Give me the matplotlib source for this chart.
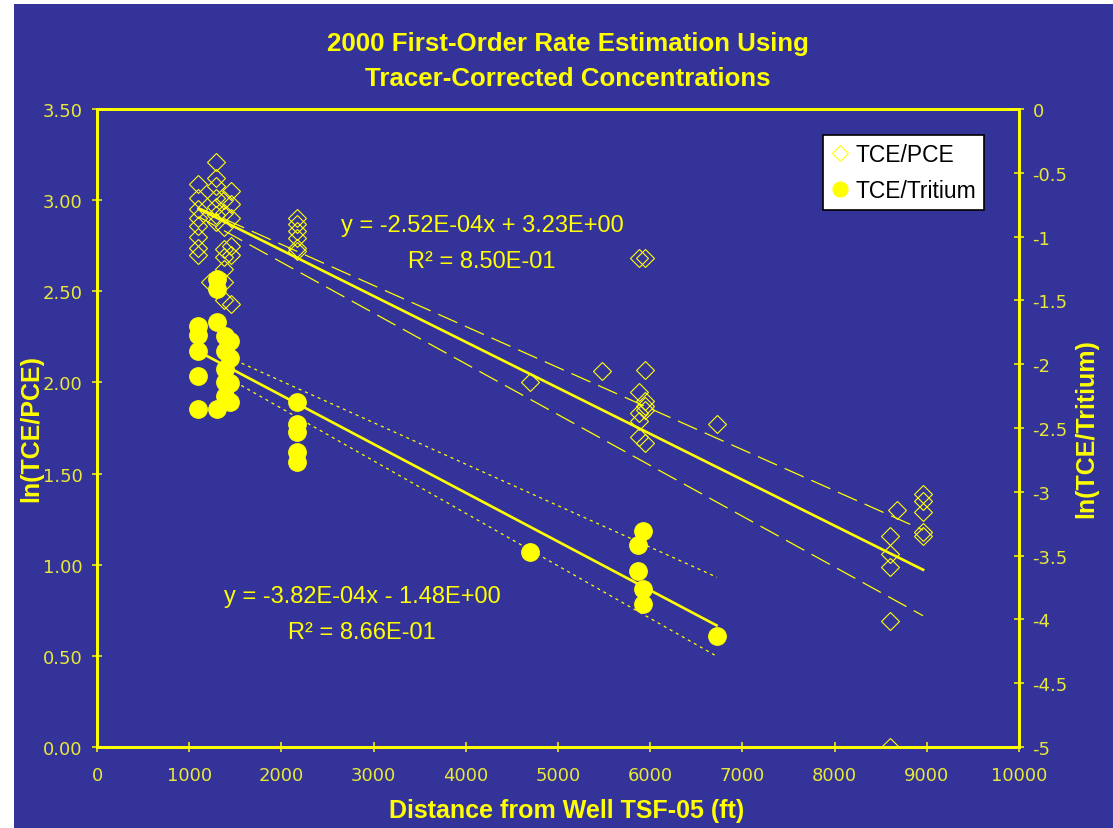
import numpy as np
import matplotlib
matplotlib.use("Agg")
import matplotlib.pyplot as plt
from matplotlib import font_manager
from matplotlib.patches import Rectangle
from matplotlib.ticker import FormatStrFormatter, FuncFormatter

NAVY = "#333399"
YEL = "#FFFF00"

# ---- data ----
# TCE/PCE (left axis)
pce_x = [1100, 1100, 1100, 1100, 1100, 1100, 1100, 1100,
         1290, 1290, 1290, 1290, 1290, 1290, 1290, 1230,
         1380, 1380, 1380, 1380, 1380, 1380, 1380, 1380,
         1450, 1450, 1450, 1450, 1450, 1450,
         2170, 2170, 2170, 2170, 2170, 2170,
         4700, 5480,
         5880, 5880, 5880, 5880, 5880,
         5940, 5940, 5940, 5940, 5940, 5940,
         6720,
         8600, 8600, 8600, 8600, 8600, 8680,
         8960, 8960, 8960, 8960, 8960]
pce_y = [3.09, 3.01, 2.95, 2.90, 2.86, 2.80, 2.74, 2.70,
         3.21, 3.12, 3.08, 3.01, 2.96, 2.92, 2.88, 2.55,
         3.00, 2.93, 2.85, 2.73, 2.69, 2.62, 2.55, 2.45,
         3.05, 2.98, 2.90, 2.75, 2.70, 2.43,
         2.90, 2.87, 2.83, 2.79, 2.74, 2.72,
         2.00, 2.06,
         2.68, 1.95, 1.83, 1.79, 1.70,
         2.68, 2.07, 1.90, 1.87, 1.85, 1.67,
         1.77,
         1.16, 1.06, 0.99, 0.69, 0.00, 1.30,
         1.39, 1.35, 1.29, 1.18, 1.16]

# TCE/Tritium (right axis)
trit_x = [1100, 1100, 1100, 1100, 1100,
          1300, 1300, 1300, 1300,
          1390, 1390, 1390, 1390, 1390,
          1440, 1440, 1440, 1440,
          2170, 2170, 2170, 2170, 2170,
          4700,
          5870, 5920, 5870, 5920, 5920,
          6720]
trit_y = [-1.70, -1.77, -1.90, -2.09, -2.35,
          -1.33, -1.41, -1.67, -2.35,
          -1.78, -1.90, -2.04, -2.14, -2.25,
          -1.82, -1.95, -2.15, -2.30,
          -2.30, -2.47, -2.53, -2.69, -2.77,
          -3.47,
          -3.42, -3.31, -3.62, -3.76, -3.88,
          -4.13]

# trendlines (from the equations shown on the chart)
pce_slope, pce_icpt, pce_r2 = -2.52e-4, 3.23, 8.50e-1
trit_slope, trit_icpt, trit_r2 = -3.82e-4, -1.48, 8.66e-1

# confidence band lines
pce_up_x, pce_up_y = [1100, 8960], [2.96, 1.19]
pce_lo_x, pce_lo_y = [1100, 8960], [2.91, 0.72]
trit_up_x, trit_up_y = [1500, 6725], [-1.97, -3.67]
trit_lo_x, trit_lo_y = [1500, 6725], [-2.14, -4.29]

x_ticks = list(range(0, 10001, 1000))
left_ticks = [0, 0.5, 1.0, 1.5, 2.0, 2.5, 3.0, 3.5]
right_ticks = [0, -0.5, -1, -1.5, -2, -2.5, -3, -3.5, -4, -4.5, -5]

# ---- fonts ----
names = {f.name for f in font_manager.fontManager.ttflist}
MAIN = "Liberation Sans" if "Liberation Sans" in names else "DejaVu Sans"
NARROW = "Liberation Sans Narrow" if "Liberation Sans Narrow" in names else "DejaVu Sans"
plt.rcParams["font.family"] = [MAIN, "DejaVu Sans"]
plt.rcParams["lines.scale_dashes"] = False

W, H = 1113, 829
fig = plt.figure(figsize=(W / 100, H / 100), dpi=100)
fig.patch.set_facecolor("white")
fig.add_artist(Rectangle((14 / W, 0), 1, 1 - 5 / H, transform=fig.transFigure,
                         facecolor=NAVY, edgecolor="none", zorder=-10))

ax = fig.add_axes([97 / W, 1 - 748 / H, (1019 - 97) / W, (748 - 110) / H])
ax.set_facecolor(NAVY)
ax2 = ax.twinx()

# points
h1, = ax.plot(pce_x, pce_y, linestyle="none", marker="D", ms=9.5,
              mfc="none", mec=YEL, mew=0.8, label="TCE/PCE", zorder=3)
h2, = ax2.plot(trit_x, trit_y, linestyle="none", marker="o", ms=12.5,
               mfc=YEL, mec=YEL, label="TCE/Tritium", zorder=3)

# trendlines
xx = np.array([min(pce_x), max(pce_x)])
ax.plot(xx, pce_slope * xx + pce_icpt, color=YEL, lw=1.9, zorder=4)
xx = np.array([min(trit_x), max(trit_x)])
ax2.plot(xx, trit_slope * xx + trit_icpt, color=YEL, lw=1.9, zorder=4)

# bands
ax.plot(pce_up_x, pce_up_y, color=YEL, lw=0.9, dashes=(15, 6), zorder=4)
ax.plot(pce_lo_x, pce_lo_y, color=YEL, lw=0.9, dashes=(15, 6), zorder=4)
ax2.plot(trit_up_x, trit_up_y, color=YEL, lw=0.9, dashes=(2.2, 2.8), zorder=4)
ax2.plot(trit_lo_x, trit_lo_y, color=YEL, lw=0.9, dashes=(2.2, 2.8), zorder=4)

# axes
ax.set_xlim(0, 10000)
ax.set_ylim(0, 3.5)
ax2.set_ylim(-5, 0)
ax.set_xticks(x_ticks)
ax.set_yticks(left_ticks)
ax2.set_yticks(right_ticks)
ax.yaxis.set_major_formatter(FormatStrFormatter("%.2f"))
ax2.yaxis.set_major_formatter(FuncFormatter(lambda v, p: "%g" % v))

for a in (ax, ax2):
    for s in a.spines.values():
        s.set_color(YEL)
        s.set_linewidth(2)
    a.tick_params(direction="inout", length=7.5, width=1.1, color=YEL,
                  labelcolor="#E8E83A", labelsize=13)
    for lab in a.get_xticklabels() + a.get_yticklabels():
        lab.set_family(NARROW)
ax.tick_params(axis="y", pad=6.5)
ax.tick_params(axis="x", pad=10)
ax2.tick_params(axis="y", pad=6)

ax.set_xlabel("Distance from Well TSF-05 (ft)", color=YEL, fontsize=18, fontweight="bold")
ax.xaxis.set_label_coords((567 - 97) / 922, (748 - 799) / 638)
ax.set_ylabel("ln(TCE/PCE)", color=YEL, fontsize=18, fontweight="bold")
ax.yaxis.set_label_coords((43 - 97) / 922, 0.5)
ax2.set_ylabel("ln(TCE/Tritium)", color=YEL, fontsize=18, fontweight="bold", rotation=90)
ax2.yaxis.set_label_coords((1074 - 97) / 922, 0.5)

# title
fig.text(568 / W, 1 - 44 / H, "2000 First-Order Rate Estimation Using", color=YEL,
         fontsize=18.6, fontweight="bold", ha="center", va="center")
fig.text(568 / W, 1 - 79 / H, "Tracer-Corrected Concentrations", color=YEL,
         fontsize=18.6, fontweight="bold", ha="center", va="center")

# equations
fig.text(482 / W, 1 - 226 / H, "y = %.2E" % pce_slope + "x + %.2E" % pce_icpt,
         color=YEL, fontsize=17, ha="center", va="center")
fig.text(482 / W, 1 - 262 / H, "R\u00b2 = %.2E" % pce_r2,
         color=YEL, fontsize=17, ha="center", va="center")
fig.text(362 / W, 1 - 597 / H, "y = %.2E" % trit_slope + "x - %.2E" % abs(trit_icpt),
         color=YEL, fontsize=17, ha="center", va="center")
fig.text(362 / W, 1 - 633 / H, "R\u00b2 = %.2E" % trit_r2,
         color=YEL, fontsize=17, ha="center", va="center")

leg = fig.legend(handles=[h1, h2], loc="upper right",
                 bbox_to_anchor=(984 / W, 1 - 136 / H), fontsize=16.5,
                 frameon=True, fancybox=False, framealpha=1, facecolor="white",
                 edgecolor="black", markerscale=0.85, handlelength=0.8,
                 handletextpad=0.25, borderpad=0.35, labelspacing=0.55,
                 borderaxespad=0)
leg.get_frame().set_linewidth(1.2)

fig.savefig("out.png", dpi=100, facecolor=fig.get_facecolor())
